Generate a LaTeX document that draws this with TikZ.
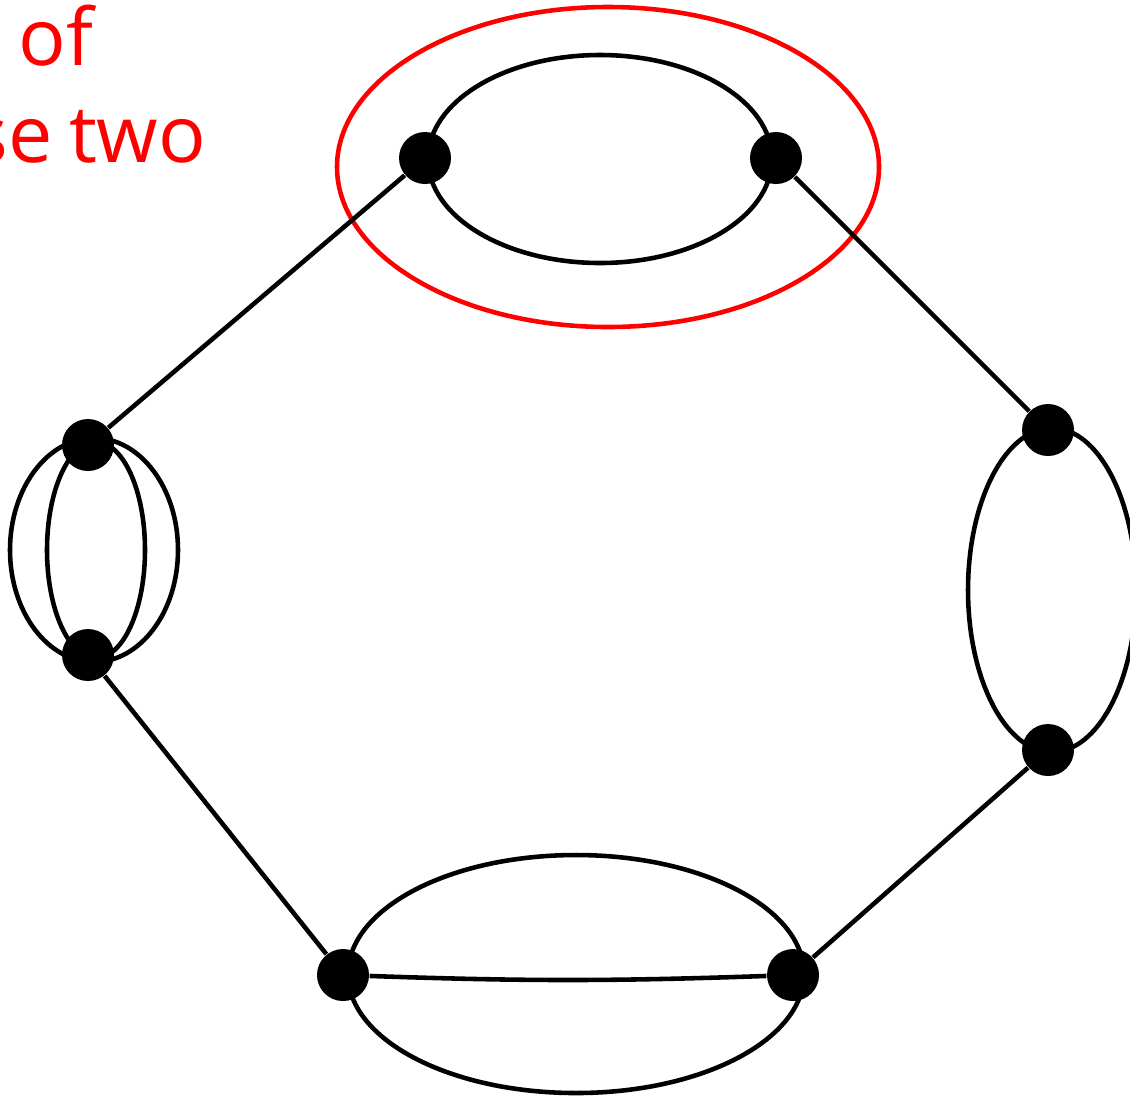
\documentclass[tikz,border=0pt]{standalone}
\usepackage{fontspec}
\newfontfamily\capfont[WordSpace=0.78]{Open Sans}
\usetikzlibrary{positioning}

\tikzset{
    vertex/.style={circle, fill=black, minimum size=0.52cm, inner sep=0pt},
    edge/.style={line width=1.3pt, black},
    loopline/.style={line width=1.3pt, red},
    caption/.style={inner sep=0pt, text=red, font=\capfont\fontsize{22.5}{30}\selectfont}
}

\begin{document}
\begin{tikzpicture}
    \useasboundingbox (0,0) rectangle (11.30,-10.99);
    \clip (0,0) rectangle (11.30,-10.99);

    % text at the top left
    \node[caption, anchor=base east] (lineone) at (0.94,-0.65) {of};
    \node[caption, anchor=base east] (linetwo) at (2.07,-1.62) {se two};

    % double and triple edges
    \draw[edge] (6.00,-1.59) ellipse [x radius=1.72, y radius=1.04];
    \draw[edge] (0.94,-5.50) ellipse [x radius=0.84, y radius=1.12];
    \draw[edge] (0.96,-5.50) ellipse [x radius=0.49, y radius=1.08];
    \draw[edge] (10.52,-5.90) ellipse [x radius=0.84, y radius=1.62];
    \draw[edge] (5.76,-9.74) ellipse [x radius=2.28, y radius=1.19];

    % the red ring
    \draw[loopline] (6.08,-1.67) ellipse [x radius=2.71, y radius=1.60];

    % vertices
    \node[vertex] (top1) at (4.25,-1.58) {};
    \node[vertex] (top2) at (7.76,-1.58) {};
    \node[vertex] (left1) at (0.88,-4.45) {};
    \node[vertex] (left2) at (0.88,-6.55) {};
    \node[vertex] (right1) at (10.48,-4.30) {};
    \node[vertex] (right2) at (10.48,-7.50) {};
    \node[vertex] (bot1) at (3.43,-9.75) {};
    \node[vertex] (bot2) at (7.93,-9.75) {};

    \foreach \a/\b in {top1/left1, top2/right1, left2/bot1, right2/bot2}
        \draw[edge] (\a) -- (\b);
    \draw[edge] (bot1) to[bend right=2] (bot2);
\end{tikzpicture}
\end{document}
